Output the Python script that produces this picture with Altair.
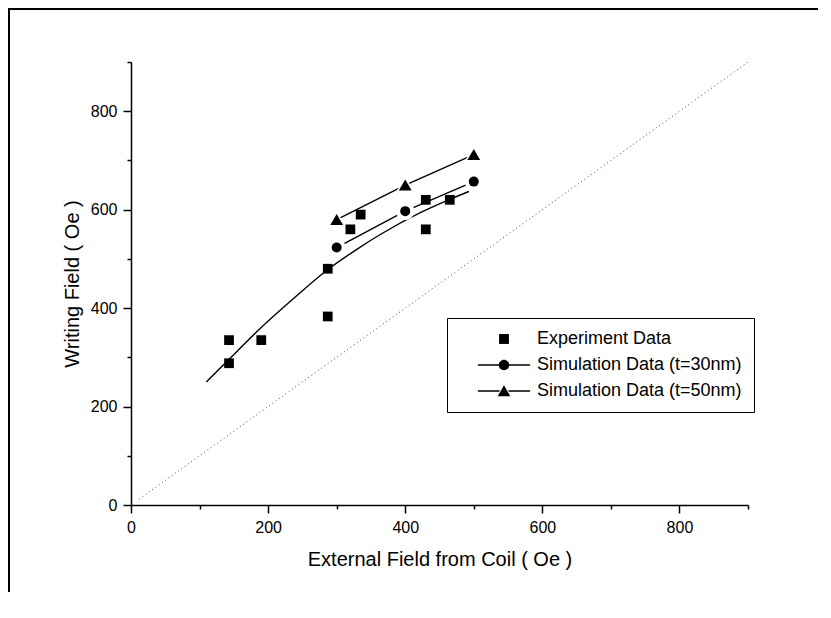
import altair as alt
import pandas as pd

# ---------------- data ----------------
exp_x = [143, 143, 190, 287, 287, 320, 335, 430, 430, 465]
exp_y = [335, 288, 335, 480, 383, 560, 590, 620, 560, 620]

sim30_x = [300, 400, 500]
sim30_y = [523, 597, 657]

sim50_x = [300, 400, 500]
sim50_y = [580, 650, 712]

fit_x = [110, 143, 188, 240, 283, 330, 363, 422, 460, 493]
fit_y = [250, 296, 358, 423, 474, 520, 549, 594, 618, 637]

diag_x = [12, 900]
diag_y = [12, 900]

legend_labels = ["Experiment Data", "Simulation Data (t=30nm)", "Simulation Data (t=50nm)"]

axis_values = [0, 100, 200, 300, 400, 500, 600, 700, 800, 900]

# ---------------- tables ----------------
exp_df = pd.DataFrame({"x": exp_x, "y": exp_y})
s30_df = pd.DataFrame({"x": sim30_x, "y": sim30_y})
s50_df = pd.DataFrame({"x": sim50_x, "y": sim50_y})
fit_df = pd.DataFrame({"x": fit_x, "y": fit_y})
diag_df = pd.DataFrame({"x": diag_x, "y": diag_y})
leg_df = pd.DataFrame({"x": [exp_x[0], sim30_x[0], sim50_x[0]],
                       "y": [exp_y[0], sim30_y[0], sim50_y[0]],
                       "entry": legend_labels})

# legend glyphs (custom symbol paths; 1 unit = 9 px with symbolSize 324)
sq = "M-0.55,-0.55L0.55,-0.55L0.55,0.55L-0.55,0.55Z"
lines = ("M-2.9,-0.08L-0.5,-0.08L-0.5,0.08L-2.9,0.08Z "
         "M0.5,-0.08L2.9,-0.08L2.9,0.08L0.5,0.08Z")
circ = "M-0.58,0A0.58,0.58 0 1,1 0.58,0A0.58,0.58 0 1,1 -0.58,0Z"
tri = "M0,-0.65L0.7,0.58L-0.7,0.58Z"
legend_paths = [sq, lines + " " + circ, lines + " " + tri]

FONT = "Liberation Sans"

def axis(title, tpad):
    return alt.Axis(
        title=title,
        values=axis_values,
        labelExpr="datum.value % 200 == 0 ? datum.label : ''",
        tickSize={"condition": {"test": "datum.value % 200 != 0", "value": 4}, "value": 8},
        grid=False,
        labelFlush=False,
        labelOverlap=False,
        titlePadding=tpad,
    )

xs = alt.Scale(domain=[0, 900], nice=False, zero=False)
ys = alt.Scale(domain=[0, 900], nice=False, zero=False)

X = alt.X("x:Q", scale=xs, axis=axis("External Field from Coil ( Oe )", 14))
Y = alt.Y("y:Q", scale=ys, axis=axis("Writing Field ( Oe )", 8))

diag = alt.Chart(diag_df).mark_line(color="#444444", strokeWidth=1, strokeDash=[1, 3]).encode(x=X, y=Y)
fit = alt.Chart(fit_df).mark_line(color="black", strokeWidth=1.4, interpolate="monotone").encode(x=X, y=Y)
l30 = alt.Chart(s30_df).mark_line(color="black", strokeWidth=1.4).encode(x=X, y=Y)
l50 = alt.Chart(s50_df).mark_line(color="black", strokeWidth=1.4).encode(x=X, y=Y)
h30 = alt.Chart(s30_df).mark_point(shape="circle", filled=True, color="white", opacity=1, size=330).encode(x=X, y=Y)
h50 = alt.Chart(s50_df).mark_point(shape="triangle-up", filled=True, color="white", opacity=1, size=420).encode(x=X, y=Y)
p30 = alt.Chart(s30_df).mark_point(shape="circle", filled=True, color="black", opacity=1, size=100).encode(x=X, y=Y)
p50 = alt.Chart(s50_df).mark_point(shape="triangle-up", filled=True, color="black", opacity=1, size=165).encode(x=X, y=Y)
pexp = alt.Chart(exp_df).mark_point(shape="square", filled=True, color="black", opacity=1, size=95).encode(x=X, y=Y)

leg = alt.Chart(leg_df).mark_point(filled=True, color="black", opacity=0, strokeWidth=0).encode(
    x=X, y=Y,
    shape=alt.Shape("entry:N",
                    scale=alt.Scale(domain=legend_labels, range=legend_paths),
                    legend=alt.Legend(title=None, orient="none", legendX=316, legendY=256,
                                      direction="vertical", symbolSize=324,
                                      symbolFillColor="black", symbolStrokeWidth=0, symbolOpacity=1,
                                      labelFont=FONT, labelFontSize=18, labelColor="black",
                                      labelLimit=400, labelOffset=24,
                                      strokeColor="black", fillColor="white",
                                      padding=12, symbolOffset=36, rowPadding=8)),
)

frame_df = pd.DataFrame({"a": [0]})
frame_top = alt.Chart(frame_df).mark_rule(color="black", strokeWidth=2).encode(
    x=alt.value(-123), x2=alt.value(690), y=alt.value(-53))
frame_left = alt.Chart(frame_df).mark_rule(color="black", strokeWidth=2).encode(
    x=alt.value(-122), y=alt.value(-54), y2=alt.value(530))

chart = alt.layer(diag, fit, l30, l50, h30, h50, p30, p50, pexp, leg, frame_top, frame_left).properties(
    width=617, height=443,
    background="white",
    autosize=alt.AutoSizeParams(type="none"),
    padding={"left": 123, "top": 54, "right": 70, "bottom": 100},
).configure_view(stroke=None).configure_axis(
    domainColor="black", domainWidth=1.5, tickColor="black", tickWidth=1.5,
    labelFont=FONT, labelFontSize=16, labelColor="black", labelPadding=6,
    titleFont=FONT, titleFontSize=20, titleFontWeight="normal", titleColor="black",
)

chart.save("out.html", embed_options={"renderer": "svg", "actions": False})
